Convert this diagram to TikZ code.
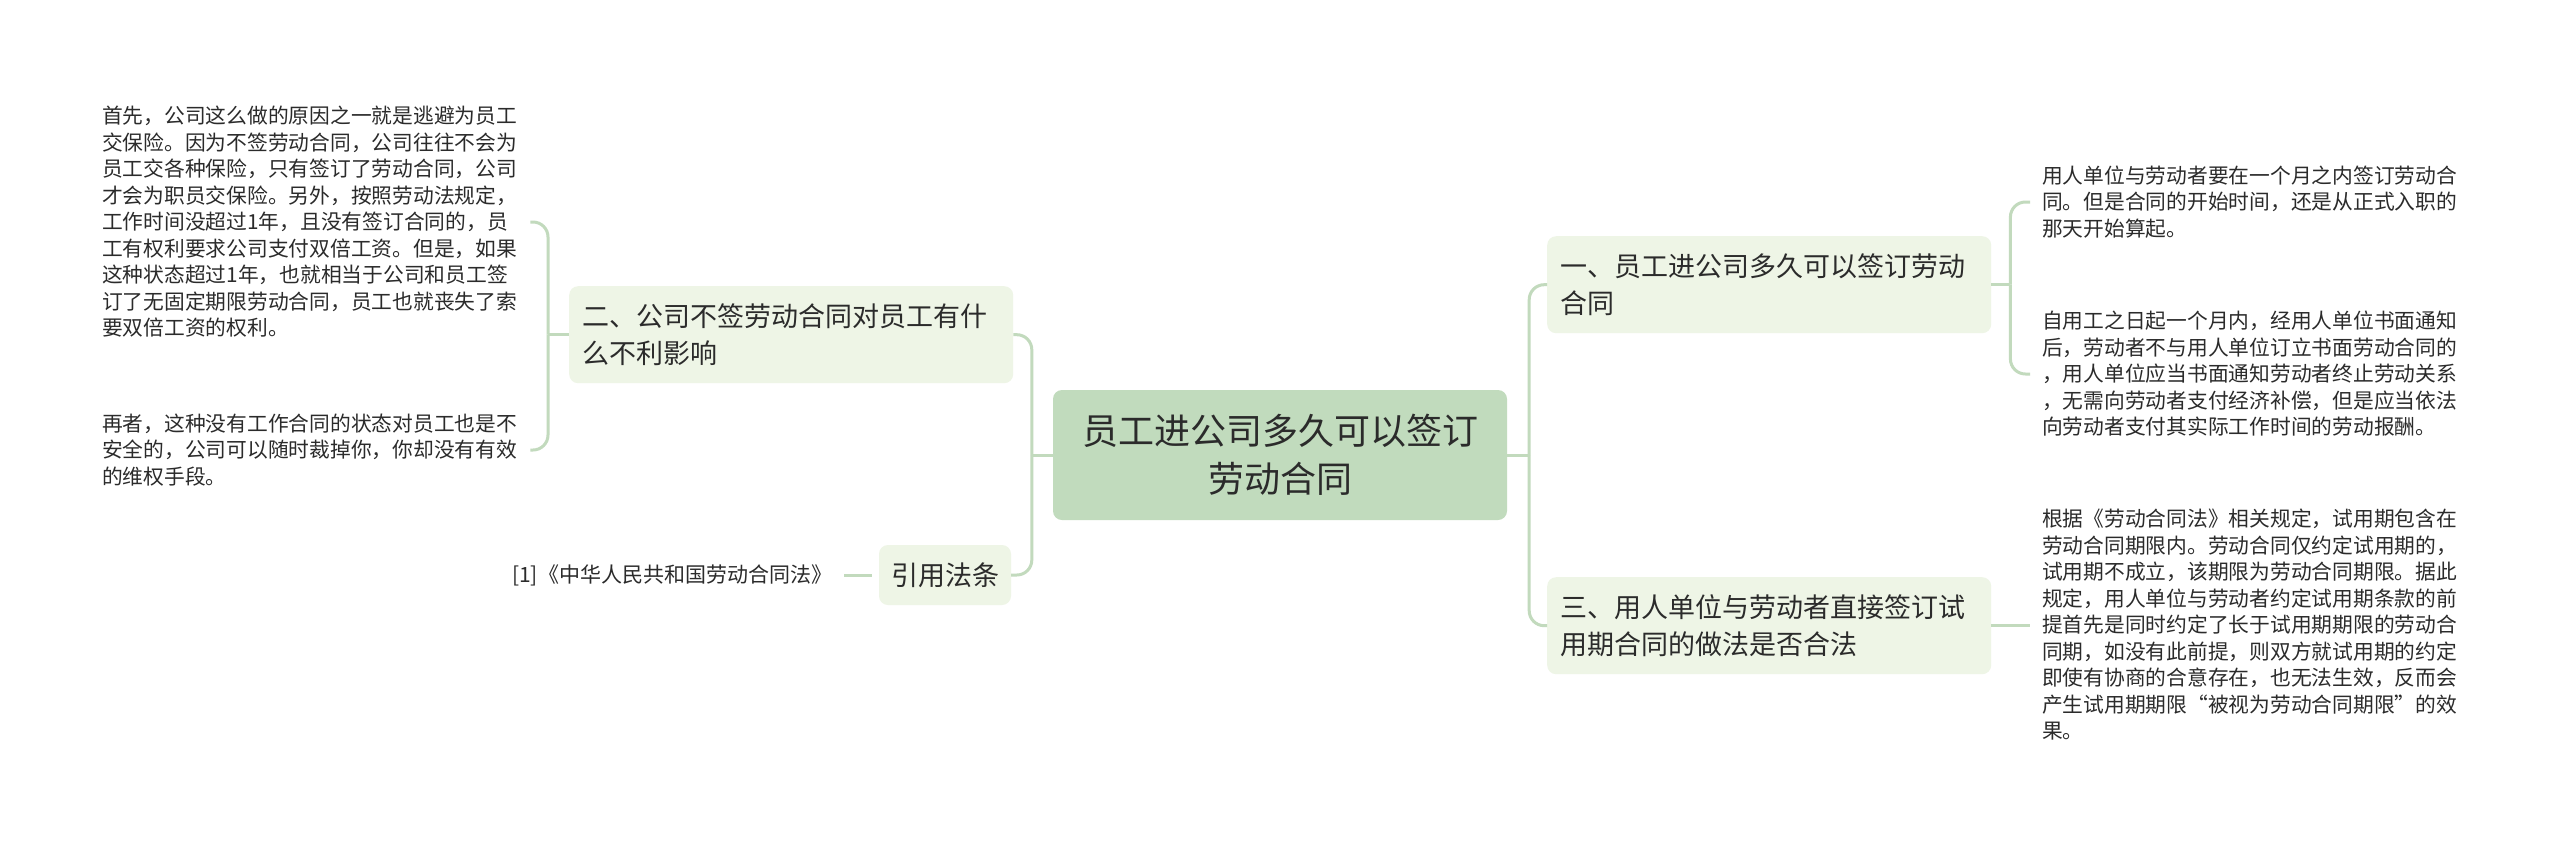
\documentclass[tikz,border=0pt]{standalone}
\usepackage{fontspec}
\setmainfont{Noto Sans CJK SC}
\definecolor{linec}{HTML}{C2DABD}
\definecolor{centerfill}{HTML}{C1DBBD}
\definecolor{subfill}{HTML}{EEF5E6}
\definecolor{txt}{HTML}{2B2B2B}
\tikzset{
  conn/.style={draw=linec, line width=3pt, rounded corners=15pt},
  centerbox/.style={fill=centerfill, rounded corners=9pt, minimum width=454pt, minimum height=130pt,
    inner sep=0pt, align=center, text=txt, font=\fontsize{36pt}{48pt}\selectfont},
  subbox/.style={fill=subfill, rounded corners=9pt, text width=418pt, inner xsep=13pt, inner ysep=0pt,
    minimum height=97pt, align=left, text=txt, font=\fontsize{27pt}{37pt}\selectfont},
  smallbox/.style={fill=subfill, rounded corners=9pt, minimum width=132pt, minimum height=60pt,
    inner sep=0pt, align=center, text=txt, font=\fontsize{27pt}{37pt}\selectfont},
  leaf/.style={inner sep=0pt, align=left, text=txt, font=\fontsize{20.75pt}{26.5pt}\selectfont},
}
\begin{document}
\begin{tikzpicture}[x=1pt,y=-1pt]
\fill[white] (0,0) rectangle (2560,847);
\useasboundingbox (0,0) rectangle (2560,847);

% main nodes
\node[centerbox] (c) at (1280,455) {员工进公司多久可以签订\\劳动合同};
\node[subbox, anchor=north west] (n1) at (1547,236) {一、员工进公司多久可以签订劳动\\合同};
\node[subbox, anchor=north west] (n3) at (1547,577) {三、用人单位与劳动者直接签订试\\用期合同的做法是否合法};
\node[subbox, anchor=north west] (n2) at (569,286) {二、公司不签劳动合同对员工有什\\么不利影响};
\node[smallbox] (n4) at (945,575) {引用法条};

% leaves
\node[leaf, anchor=west] (r1) at (2042,202) {用人单位与劳动者要在一个月之内签订劳动合\\同。但是合同的开始时间，还是从正式入职的\\那天开始算起。};
\node[leaf, anchor=west] (r2) at (2042,374) {自用工之日起一个月内，经用人单位书面通知\\后，劳动者不与用人单位订立书面劳动合同的\\，用人单位应当书面通知劳动者终止劳动关系\\，无需向劳动者支付经济补偿，但是应当依法\\向劳动者支付其实际工作时间的劳动报酬。};
\node[leaf, anchor=west] (r3) at (2042,625) {根据《劳动合同法》相关规定，试用期包含在\\劳动合同期限内。劳动合同仅约定试用期的，\\试用期不成立，该期限为劳动合同期限。据此\\规定，用人单位与劳动者约定试用期条款的前\\提首先是同时约定了长于试用期期限的劳动合\\同期，如没有此前提，则双方就试用期的约定\\即使有协商的合意存在，也无法生效，反而会\\产生试用期期限“被视为劳动合同期限”的效\\果。};
\node[leaf, anchor=west] (l1) at (102,222) {首先，公司这么做的原因之一就是逃避为员工\\交保险。因为不签劳动合同，公司往往不会为\\员工交各种保险，只有签订了劳动合同，公司\\才会为职员交保险。另外，按照劳动法规定，\\工作时间没超过1年，且没有签订合同的，员\\工有权利要求公司支付双倍工资。但是，如果\\这种状态超过1年，也就相当于公司和员工签\\订了无固定期限劳动合同，员工也就丧失了索\\要双倍工资的权利。};
\node[leaf, anchor=west] (l2) at (102,450) {再者，这种没有工作合同的状态对员工也是不\\安全的，公司可以随时裁掉你，你却没有有效\\的维权手段。};
\node[leaf, anchor=west, font=\fontsize{21pt}{26pt}\selectfont] (cite) at (512,575) {[1]《中华人民共和国劳动合同法》};

% junction coordinates
\coordinate (rj) at ([xshift=22pt]c.east);
\coordinate (lj) at ([xshift=-21pt]c.west);
\coordinate (n1j) at ([xshift=19pt]n1.east);
\coordinate (n2j) at ([xshift=-21pt]n2.west);
\coordinate (r1t) at ([xshift=-12pt]r1.west);
\coordinate (r2t) at ([xshift=-12pt]r2.west);
\coordinate (r3t) at ([xshift=-12pt]r3.west);
\coordinate (l1t) at ([xshift=13pt]l1.east);
\coordinate (l2t) at ([xshift=13pt]l2.east);
\coordinate (citet) at ([xshift=12pt]cite.east);

% connectors right
\draw[conn] (c.east) -- (rj);
\draw[conn] (n1.west) -| (rj);
\draw[conn] (n3.west) -| (rj);
\draw[conn] (n1.east) -- (n1j);
\draw[conn] (r1t) -| (n1j);
\draw[conn] (r2t) -| (n1j);
\draw[conn] (n3.east) -- (n3.east -| r3t);

% connectors left
\draw[conn] (c.west) -- (lj);
\draw[conn] (n2.east) -| (lj);
\draw[conn] (n4.east) -| (lj);
\draw[conn] (n2.west) -- (n2j);
\draw[conn] (l1t) -| (n2j);
\draw[conn] (l2t) -| (n2j);
\draw[conn] ([xshift=-7pt]n4.west) -- (citet);
\end{tikzpicture}
\end{document}
